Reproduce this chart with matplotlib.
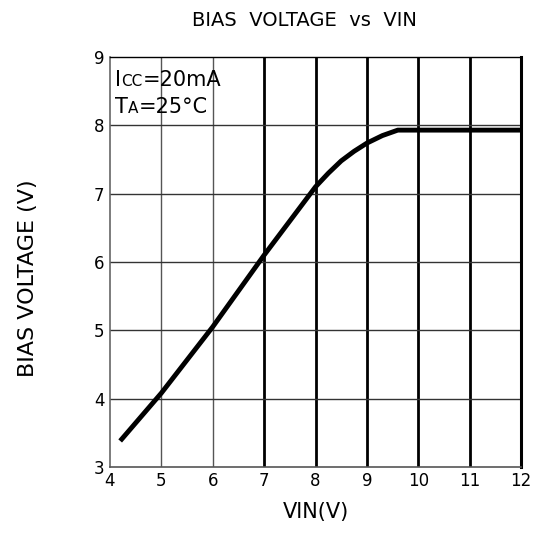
import matplotlib
matplotlib.use("Agg")
import matplotlib.pyplot as plt

# data
vin = [4.2, 5.0, 6.0, 7.0, 8.0, 8.25, 8.5, 8.75, 9.0, 9.3, 9.6, 12.0]
bias = [3.38, 4.08, 5.05, 6.10, 7.10, 7.30, 7.48, 7.62, 7.74, 7.85, 7.93, 7.93]

x_ticks = [4, 5, 6, 7, 8, 9, 10, 11, 12]
y_ticks = [3, 4, 5, 6, 7, 8, 9]
thin_x = [5, 6]
bold_x = [7, 8, 9, 10, 11]

plt.rcParams['font.family'] = ['DejaVu Sans']

fig = plt.figure(figsize=(5.44, 5.33), dpi=100)
ax = fig.add_axes([0.202, 0.124, 0.756, 0.769])

ax.set_xlim(4, 12)
ax.set_ylim(3, 9)
ax.set_xticks(x_ticks)
ax.set_yticks(y_ticks)
ax.tick_params(length=0, labelsize=12, pad=4)

# grid
for x in thin_x:
    ax.axvline(x, color="#555555", lw=1.0, zorder=1)
for x in bold_x:
    ax.axvline(x, color="black", lw=2.0, zorder=1)
for y in y_ticks[1:-1]:
    ax.axhline(y, color="#333333", lw=1.0, zorder=1)

ax.spines['left'].set_color("#666666")
ax.spines['left'].set_linewidth(1.2)
ax.spines['bottom'].set_color("#555555")
ax.spines['bottom'].set_linewidth(1.2)
ax.spines['top'].set_color("black")
ax.spines['top'].set_linewidth(1.0)
ax.spines['right'].set_color("black")
ax.spines['right'].set_linewidth(2.2)

ax.plot(vin, bias, color="black", lw=3.5, solid_capstyle="butt", zorder=3)

ax.set_xlabel("VIN(V)", fontsize=15, labelpad=8)
ax.set_ylabel("BIAS VOLTAGE (V)", fontsize=16)
ax.yaxis.set_label_coords(-0.175, 0.46)
fig.text(0.56, 0.962, "BIAS  VOLTAGE  vs  VIN", fontsize=14, ha="center", va="center")


# condition box text with small-caps subscripts
def chain(parts, x, y):
    fig.canvas.draw()
    r = fig.canvas.get_renderer()
    px, py = ax.transAxes.transform((x, y))
    for s, size in parts:
        t = fig.text(px / fig.bbox.width, py / fig.bbox.height, s,
                     fontsize=size, ha="left", va="baseline")
        px = t.get_window_extent(r).x1 + 0.5


chain([("I", 15), ("CC", 11), ("=20mA", 15)], 0.012, 0.93)
chain([("T", 15), ("A", 11), ("=25°C", 15)], 0.012, 0.863)

fig.savefig("out.png", dpi=100)
